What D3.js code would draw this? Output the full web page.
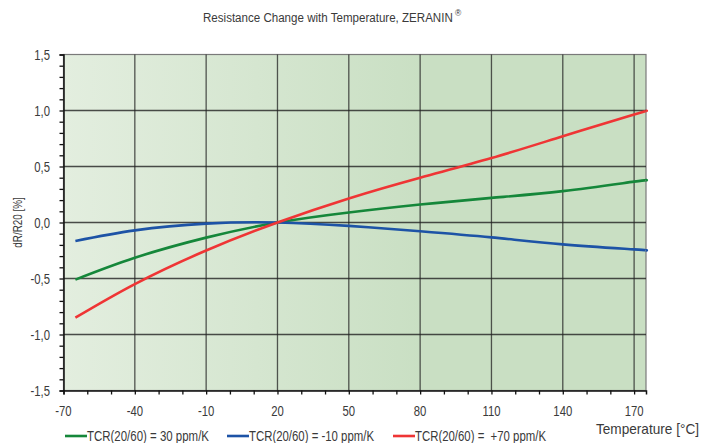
<!DOCTYPE html>
<html>
<head>
<meta charset="utf-8">
<script src="https://cdn.jsdelivr.net/npm/d3@7"></script>
<style>
  body { margin: 0; background: #fff; }
  svg text { font-family: "Liberation Sans", Arial, sans-serif; fill: #3a3a3a; }
</style>
</head>
<body>
<svg id="chart" width="718" height="443"></svg>
<script>
  'use strict';

  // temperatures in degC
  var temps = [-65, -40, -10, 20, 50, 80, 110, 140, 170, 175];
  // dR/R20 in %
  var tcr30 = [-0.51, -0.315, -0.135, 0, 0.09, 0.16, 0.22, 0.28, 0.365, 0.375];
  var tcrMinus10 = [-0.165, -0.07, -0.01, 0, -0.03, -0.078, -0.133, -0.195, -0.24, -0.25];
  var tcr70 = [-0.85, -0.55, -0.25, 0, 0.215, 0.40, 0.575, 0.77, 0.965, 0.995];

  var seriesNames = ['TCR(20/60) = 30 ppm/K', 'TCR(20/60) = -10 ppm/K', 'TCR(20/60) =  +70 ppm/K'];
  var seriesColors = ['#15873a', '#1d53a6', '#ef3535'];

  var xTicks = [-70, -40, -10, 20, 50, 80, 110, 140, 170];
  var yTicks = [-1.5, -1.0, -0.5, 0, 0.5, 1.0, 1.5];

  (function () {
    var svg = d3.select('#chart');
    var pLeft = 63.5, pTop = 54.5, pRight = 646, pBottom = 390.5;

    var x = d3.scaleLinear().domain([-70, 175]).range([pLeft, pRight]);
    var y = d3.scaleLinear().domain([-1.5, 1.5]).range([pBottom, pTop]);

    // squeeze text to look like the condensed face of the original
    var narrow = function (sel, ratio) {
      sel.each(function () {
        var w = this.getComputedTextLength();
        d3.select(this).attr('textLength', w * ratio).attr('lengthAdjust', 'spacingAndGlyphs');
      });
    };

    // background gradient
    var grad = svg.append('defs').append('linearGradient')
      .attr('id', 'bg').attr('x1', '0%').attr('x2', '100%');
    grad.append('stop').attr('offset', '0%').attr('stop-color', '#e3eedf');
    grad.append('stop').attr('offset', '62%').attr('stop-color', '#c9dfc3');
    grad.append('stop').attr('offset', '100%').attr('stop-color', '#c9dfc3');

    svg.append('rect')
      .attr('x', pLeft).attr('y', pTop)
      .attr('width', pRight - pLeft).attr('height', pBottom - pTop)
      .attr('fill', 'url(#bg)')
      .attr('stroke', '#7a7a7a').attr('stroke-width', 1.2);

    // grid
    var grid = svg.append('g');
    grid.selectAll('line.v')
      .data(xTicks.slice(1))
      .enter().append('line')
      .attr('x1', function (d) { return x(d); })
      .attr('x2', function (d) { return x(d); })
      .attr('y1', pTop).attr('y2', pBottom)
      .attr('stroke', '#222').attr('stroke-opacity', 0.75).attr('stroke-width', 1.3);
    grid.selectAll('line.h')
      .data(yTicks.slice(1, -1))
      .enter().append('line')
      .attr('x1', pLeft).attr('x2', pRight)
      .attr('y1', function (d) { return y(d); })
      .attr('y2', function (d) { return y(d); })
      .attr('stroke', '#222').attr('stroke-opacity', 0.8).attr('stroke-width', 1.3);

    // axes
    var fmt = function (d) { return d3.format('.1f')(d).replace('.', ',').replace('−', '-'); };

    var yAxis = svg.append('g')
      .attr('transform', 'translate(' + pLeft + ',0)')
      .call(d3.axisLeft(y).ticks(30).tickSize(4).tickFormat(''));
    yAxis.select('.domain').attr('stroke', '#111').attr('stroke-width', 1.5);
    yAxis.selectAll('.tick line').attr('stroke', '#111').attr('stroke-width', 1.3);

    svg.append('g').selectAll('text')
      .data(yTicks)
      .enter().append('text')
      .attr('x', 50).attr('y', function (d) { return y(d); })
      .attr('dy', '0.36em')
      .attr('text-anchor', 'end')
      .attr('font-size', 14.5)
      .text(fmt)
      .call(narrow, 0.78);

    var xAxis = svg.append('g')
      .attr('transform', 'translate(0,' + pBottom + ')')
      .call(d3.axisBottom(x).tickValues(d3.range(-70, 176, 10)).tickSize(4).tickFormat(''));
    xAxis.select('.domain').attr('stroke', '#111').attr('stroke-width', 1.5);
    xAxis.selectAll('.tick line').attr('stroke', '#111').attr('stroke-width', 1.3);

    svg.append('g').selectAll('text')
      .data(xTicks)
      .enter().append('text')
      .attr('x', function (d) { return x(d); })
      .attr('y', 416)
      .attr('text-anchor', 'middle')
      .attr('font-size', 14.5)
      .text(function (d) { return String(d); })
      .call(narrow, 0.78);

    // curves
    var allSeries = [tcr30, tcrMinus10, tcr70];
    var line = d3.line()
      .x(function (d, i) { return x(temps[i]); })
      .y(function (d) { return y(d); })
      .curve(d3.curveNatural);

    svg.append('g').selectAll('path')
      .data(allSeries)
      .enter().append('path')
      .attr('d', line)
      .attr('fill', 'none')
      .attr('stroke', function (d, i) { return seriesColors[i]; })
      .attr('stroke-width', 2.6);

    // title, squeezed with a transform so its box stays honest
    var title = svg.append('text')
      .attr('font-size', 13.5)
      .text('Resistance Change with Temperature, ZERANIN');
    var tw = title.node().getComputedTextLength();
    title.attr('transform', 'translate(203,22) scale(' + (250 / tw) + ',1)');
    svg.append('text')
      .attr('x', 455).attr('y', 16)
      .attr('font-size', 8.5)
      .text('®');

    svg.append('text')
      .attr('transform', 'translate(22,' + y(0) + ') rotate(-90)')
      .attr('text-anchor', 'middle')
      .attr('font-size', 12)
      .text('dR/R20 [%]')
      .call(narrow, 0.82);

    svg.append('text')
      .attr('x', 596).attr('y', 434)
      .attr('font-size', 15)
      .attr('textLength', 103).attr('lengthAdjust', 'spacingAndGlyphs')
      .text('Temperature [°C]');

    // legend
    var legendX = [65, 227, 393];
    var legendW = [122, 125, 131];
    var legend = svg.append('g').selectAll('g')
      .data(seriesNames)
      .enter().append('g')
      .attr('transform', function (d, i) { return 'translate(' + legendX[i] + ',436)'; });
    legend.append('line')
      .attr('x1', 0).attr('x2', 22).attr('y1', 0).attr('y2', 0)
      .attr('stroke', function (d, i) { return seriesColors[i]; })
      .attr('stroke-width', 2.6);
    legend.append('text')
      .attr('x', 22).attr('y', 0).attr('dy', '0.36em')
      .attr('font-size', 14)
      .attr('textLength', function (d, i) { return legendW[i]; })
      .attr('lengthAdjust', 'spacingAndGlyphs')
      .style('white-space', 'pre')
      .text(function (d) { return d; });
  })();
</script>
</body>
</html>
